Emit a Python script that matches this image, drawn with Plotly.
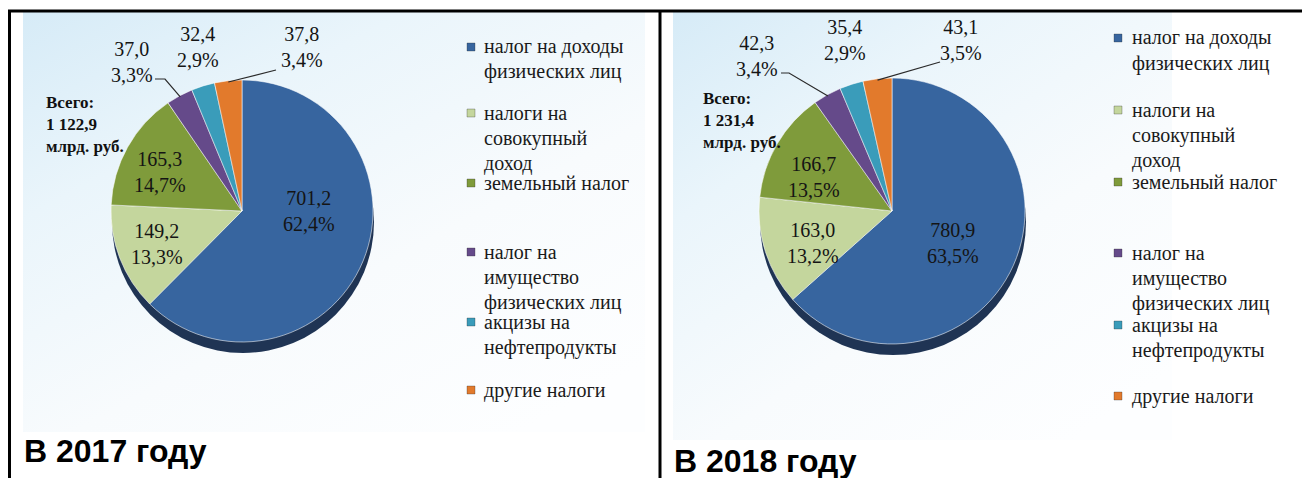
import base64
import math
import plotly.graph_objects as go

# ---------------- data ----------------
categories = [
    "налог на доходы физических лиц",
    "налоги на совокупный доход",
    "земельный налог",
    "налог на имущество физических лиц",
    "акцизы на нефтепродукты",
    "другие налоги",
]
legend_lines = [
    ["налог на доходы", "физических лиц"],
    ["налоги на", "совокупный", "доход"],
    ["земельный налог"],
    ["налог на", "имущество", "физических лиц"],
    ["акцизы на", "нефтепродукты"],
    ["другие налоги"],
]
values_2017 = [701.2, 149.2, 165.3, 37.0, 32.4, 37.8]
percent_2017 = ["62,4%", "13,3%", "14,7%", "3,3%", "2,9%", "3,4%"]
values_2018 = [780.9, 163.0, 166.7, 42.3, 35.4, 43.1]
percent_2018 = ["63,5%", "13,2%", "13,5%", "3,4%", "2,9%", "3,5%"]
totals = ["1 122,9", "1 231,4"]
titles = ["В 2017 году", "В 2018 году"]

# ---------------- style ----------------
PAGE_OFF = 8            # default body margin of the page
W, H = 1310 - PAGE_OFF, 478 - PAGE_OFF
colors = ["#37659f", "#c4d69d", "#7f9b3b", "#654a8a", "#3a9cba", "#e27a2c"]
SERIF = "'Liberation Serif', 'Times New Roman', 'DejaVu Serif', serif"
SANS = "'Liberation Sans', Arial, sans-serif"


def X(px):
    return (px - PAGE_OFF) / W


def Y(py):
    return 1 - (py - PAGE_OFF) / H


def fmt(v):
    return f"{v:.1f}".replace(".", ",")


panels = [
    dict(values=values_2017, pcts=percent_2017, total=totals[0], title=titles[0],
         cx=242, cy=211, r=131,
         label_pos=[(309, 211), (157, 244), (160, 172), (132, 62), (198, 47), (302, 47)],
         leaders={3: [(155, 79), (165, 79)], 5: [(276, 70)]},
         total_xy=(44, 124),
         leg_sq_x=471, leg_tx=482, leg_rows=[47, 113, 183, 252, 322, 390],
         bg=(23, 12, 645, 432),
         title_xy=(22, 451)),
    dict(values=values_2018, pcts=percent_2018, total=totals[1], title=titles[1],
         cx=892, cy=211, r=133,
         label_pos=[(953, 243), (813, 243), (814, 177), (757, 56), (845, 40), (961, 40)],
         leaders={3: [(781, 73), (789, 73)], 5: [(940, 62)]},
         total_xy=(701, 120),
         leg_sq_x=1118, leg_tx=1130, leg_rows=[38, 110, 182, 253, 325, 396],
         bg=(673, 12, 1172, 440),
         title_xy=(672, 461)),
]

fig = go.Figure()
shapes = []
annotations = []
images = []

svg = (
    '<svg xmlns="http://www.w3.org/2000/svg" width="600" height="420" preserveAspectRatio="none">'
    '<defs><linearGradient id="g" x1="0" y1="0" x2="0.8" y2="1">'
    '<stop offset="0" stop-color="#d6ebf7"/>'
    '<stop offset="0.3" stop-color="#eaf5fb"/>'
    '<stop offset="0.65" stop-color="#f8fbfd"/>'
    '<stop offset="1" stop-color="#fdfeff"/>'
    '</linearGradient></defs>'
    '<rect width="100%" height="100%" fill="url(#g)"/></svg>'
)
bg_src = "data:image/svg+xml;base64," + base64.b64encode(svg.encode("utf-8")).decode()

for p in panels:
    cx, cy, r = p["cx"], p["cy"], p["r"]
    vals = p["values"]
    total = sum(vals)

    # background gradient
    x0, y0, x1, y1 = p["bg"]
    images.append(dict(source=bg_src, xref="paper", yref="paper",
                       x=X(x0), y=Y(y0), sizex=(x1 - x0) / W, sizey=(y1 - y0) / H,
                       xanchor="left", yanchor="top", sizing="stretch", layer="below"))

    # 3D-like shadow under the pie
    shapes.append(dict(type="circle", xref="paper", yref="paper",
                       x0=X(cx - r + 1), x1=X(cx + r + 1), y0=Y(cy + r + 11), y1=Y(cy - r + 11),
                       fillcolor="#1f3454", line=dict(width=0), layer="below"))

    fig.add_trace(go.Pie(
        labels=categories, values=vals, sort=False, direction="clockwise", rotation=0,
        marker=dict(colors=colors, line=dict(color="rgba(255,255,255,0.55)", width=1)),
        textinfo="none", hoverinfo="label+value+percent", showlegend=False,
        domain=dict(x=[X(cx - r), X(cx + r)], y=[Y(cy + r), Y(cy - r)]),
    ))

    # slice labels
    for i, (lx, ly) in enumerate(p["label_pos"]):
        annotations.append(dict(
            xref="paper", yref="paper", x=X(lx), y=Y(ly), xanchor="center", yanchor="middle",
            text=f"{fmt(vals[i])}<br>{p['pcts'][i]}", showarrow=False,
            font=dict(family=SERIF, size=20, color="#141414"), align="center"))

    # leader lines to small slices, end point from slice mid-angle
    cum = 0.0
    mids = []
    for v in vals:
        mids.append((cum + v / 2) / total)
        cum += v
    for idx, pts in p["leaders"].items():
        ang = 2 * math.pi * mids[idx]
        ex = cx + r * 0.99 * math.sin(ang)
        ey = cy - r * 0.99 * math.cos(ang)
        path_pts = pts + [(ex, ey)]
        path = "M " + " L ".join(f"{X(a)},{Y(b)}" for a, b in path_pts)
        shapes.append(dict(type="path", xref="paper", yref="paper", path=path,
                           line=dict(color="#2a2a2a", width=1.2)))

    # total text
    tx, ty = p["total_xy"]
    annotations.append(dict(
        xref="paper", yref="paper", x=X(tx), y=Y(ty), xanchor="left", yanchor="middle",
        text=f"<b>Всего:<br>{p['total']}<br>млрд. руб.</b>", showarrow=False, align="left",
        font=dict(family=SERIF, size=17, color="#111111")))

    # legend (squares + text lines)
    for k, lines in enumerate(legend_lines):
        row_y = p["leg_rows"][k]
        sx = p["leg_sq_x"]
        shapes.append(dict(type="rect", xref="paper", yref="paper",
                           x0=X(sx - 4), x1=X(sx + 4), y0=Y(row_y + 4), y1=Y(row_y - 4),
                           fillcolor=colors[k], line=dict(color="rgba(40,40,40,0.5)", width=0.6)))
        for j, line in enumerate(lines):
            annotations.append(dict(
                xref="paper", yref="paper", x=X(p["leg_tx"]), y=Y(row_y + 25 * j),
                xanchor="left", yanchor="middle", text=line, showarrow=False,
                font=dict(family=SERIF, size=20, color="#1a1a1a")))

    # panel caption
    ttx, tty = p["title_xy"]
    annotations.append(dict(
        xref="paper", yref="paper", x=X(ttx), y=Y(tty), xanchor="left", yanchor="middle",
        text=f"<b>{p['title']}</b>", showarrow=False,
        font=dict(family=SANS, size=32, color="#000000")))

# frame lines
frame = dict(color="#000000", width=3)
shapes.append(dict(type="line", xref="paper", yref="paper", x0=X(8), x1=1, y0=Y(11), y1=Y(11), line=frame))
shapes.append(dict(type="line", xref="paper", yref="paper", x0=X(9.5), x1=X(9.5), y0=Y(11), y1=0, line=frame))
shapes.append(dict(type="line", xref="paper", yref="paper", x0=X(660), x1=X(660), y0=Y(11), y1=0, line=frame))

fig.update_layout(
    width=W, height=H, margin=dict(l=0, r=0, t=0, b=0),
    paper_bgcolor="#ffffff", plot_bgcolor="#ffffff",
    showlegend=False, shapes=shapes, annotations=annotations, images=images,
)

fig.write_html("out.html")
